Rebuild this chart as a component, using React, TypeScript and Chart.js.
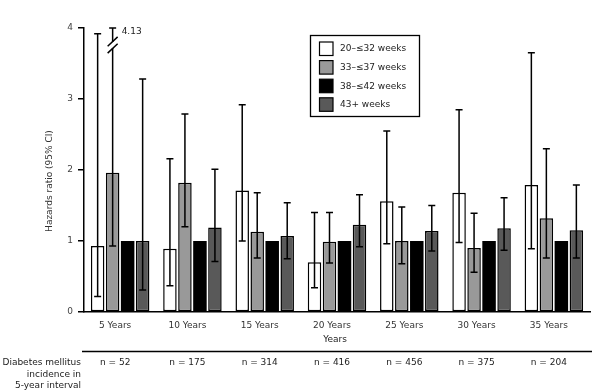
import React, { useEffect, useRef } from 'react';
import { Chart, registerables } from 'chart.js';

Chart.register(...registerables);

// ---------- data ----------
const categories = ['5 Years', '10 Years', '15 Years', '20 Years', '25 Years', '30 Years', '35 Years'];
const seriesLabels = ['20–≤32 weeks', '33–≤37 weeks', '38–≤42 weeks', '43+ weeks'];

const hr20to32 = [0.93, 0.89, 1.71, 0.70, 1.56, 1.68, 1.79];
const low20to32 = [0.22, 0.37, 1.00, 0.34, 0.96, 0.98, 0.89];
const high20to32 = [3.92, 2.16, 2.92, 1.40, 2.55, 2.85, 3.65];

const hr33to37 = [1.96, 1.82, 1.13, 0.99, 1.00, 0.90, 1.32];
const low33to37 = [0.93, 1.20, 0.76, 0.69, 0.68, 0.56, 0.76];
const high33to37 = [4.13, 2.79, 1.68, 1.40, 1.48, 1.39, 2.30];

const hr38to42 = [1, 1, 1, 1, 1, 1, 1];

const hr43plus = [1.00, 1.19, 1.07, 1.23, 1.14, 1.18, 1.15];
const low43plus = [0.31, 0.71, 0.75, 0.92, 0.86, 0.87, 0.76];
const high43plus = [3.28, 2.01, 1.54, 1.65, 1.50, 1.61, 1.79];

const incidenceCounts = ['n = 52', 'n = 175', 'n = 314', 'n = 416', 'n = 456', 'n = 375', 'n = 204'];
const incidenceRowLabel = ['Diabetes mellitus', 'incidence in', '5-year interval'];
const yTickValues = [0, 1, 2, 3, 4];
const yAxisTitle = 'Hazards ratio (95% CI)';
const xAxisTitle = 'Years';

// ---------- styles ----------
const FONT = '"DejaVu Sans", Verdana, sans-serif';
const colors = ['#ffffff', '#999999', '#000000', '#595959'];
const borderWidths = [1.5, 1.5, 0, 1.5];
const Y_MAX = 4;

const errorSeries = [
  { datasetIndex: 0, low: low20to32, high: high20to32 },
  { datasetIndex: 1, low: low33to37, high: high33to37 },
  { datasetIndex: 3, low: low43plus, high: high43plus },
];

const errorBarPlugin = {
  id: 'errorBars',
  afterDatasetsDraw(chart: any) {
    const ctx = chart.ctx;
    const yScale = chart.scales.y;
    ctx.save();
    ctx.strokeStyle = '#000';
    ctx.lineWidth = 1.5;
    const cap = 3.5;
    errorSeries.forEach(({ datasetIndex, low, high }) => {
      const meta = chart.getDatasetMeta(datasetIndex);
      meta.data.forEach((bar: any, i: number) => {
        const x = bar.x;
        const clipped = high[i] > Y_MAX;
        const yTop = yScale.getPixelForValue(Math.min(high[i], Y_MAX));
        const yBot = yScale.getPixelForValue(low[i]);
        ctx.beginPath();
        ctx.moveTo(x, yTop);
        ctx.lineTo(x, yBot);
        ctx.moveTo(x - cap, yTop);
        ctx.lineTo(x + cap, yTop);
        ctx.moveTo(x - cap, yBot);
        ctx.lineTo(x + cap, yBot);
        ctx.stroke();
        if (clipped) {
          const yc = yTop + 17;
          ctx.save();
          ctx.strokeStyle = '#fff';
          ctx.lineWidth = 3;
          ctx.beginPath();
          ctx.moveTo(x, yc - 3);
          ctx.lineTo(x, yc + 3);
          ctx.stroke();
          ctx.restore();
          ctx.beginPath();
          [-3.4, 3.4].forEach((dy) => {
            ctx.moveTo(x - 5, yc + dy + 4.7);
            ctx.lineTo(x + 5, yc + dy - 4.7);
          });
          ctx.stroke();
          ctx.fillStyle = '#222';
          ctx.font = `9px ${FONT}`;
          ctx.textAlign = 'left';
          ctx.textBaseline = 'middle';
          ctx.fillText(high[i].toFixed(2), x + 9, yTop + 3.5);
        }
      });
    });
    ctx.restore();
  },
};

const annotationsPlugin = {
  id: 'annotations',
  afterDraw(chart: any) {
    const ctx = chart.ctx;
    const area = chart.chartArea;
    const xScale = chart.scales.x;
    ctx.save();
    ctx.font = `9px ${FONT}`;
    ctx.fillStyle = '#222';

    // legend
    const lx = area.left + 226.5;
    const ly = 35.5;
    ctx.strokeStyle = '#000';
    ctx.lineWidth = 1.3;
    ctx.fillStyle = '#fff';
    ctx.fillRect(lx, ly, 109, 81);
    ctx.strokeRect(lx, ly, 109, 81);
    chart.data.datasets.forEach((ds: any, i: number) => {
      const sy = ly + 6.5 + i * 18.6;
      ctx.fillStyle = ds.backgroundColor;
      ctx.fillRect(lx + 9, sy, 13.5, 13.5);
      ctx.lineWidth = 1.2;
      ctx.strokeStyle = '#000';
      ctx.strokeRect(lx + 9, sy, 13.5, 13.5);
      ctx.fillStyle = '#222';
      ctx.textAlign = 'left';
      ctx.textBaseline = 'middle';
      ctx.fillText(ds.label, lx + 29.5, sy + 7);
    });

    // y axis title
    ctx.save();
    ctx.translate(49.5, 181);
    ctx.rotate(-Math.PI / 2);
    ctx.textAlign = 'center';
    ctx.textBaseline = 'middle';
    ctx.fillStyle = '#333';
    ctx.fillText(yAxisTitle, 0, 0);
    ctx.restore();

    // x axis title
    ctx.textAlign = 'center';
    ctx.textBaseline = 'middle';
    ctx.fillStyle = '#222';
    ctx.fillText(xAxisTitle, (area.left + area.right) / 2 - 2, 340);

    // separator line
    ctx.strokeStyle = '#000';
    ctx.lineWidth = 1.5;
    ctx.beginPath();
    ctx.moveTo(82, 351.5);
    ctx.lineTo(chart.width, 351.5);
    ctx.stroke();

    // row label
    ctx.textAlign = 'right';
    incidenceRowLabel.forEach((t, i) => {
      ctx.fillText(t, 81, 362.5 + i * 11.8);
    });

    // n counts
    ctx.textAlign = 'center';
    incidenceCounts.forEach((t, i) => {
      ctx.fillText(t, xScale.getPixelForValue(i) - 5, 362.5);
    });
    ctx.restore();
  },
};

export default function App() {
  const canvasRef = useRef<HTMLCanvasElement | null>(null);

  useEffect(() => {
    if (!canvasRef.current) return;
    const chart = new Chart(canvasRef.current, {
      type: 'bar',
      data: {
        labels: categories,
        datasets: [hr20to32, hr33to37, hr38to42, hr43plus].map((d, i) => ({
          label: seriesLabels[i],
          data: d,
          backgroundColor: colors[i],
          borderColor: '#000',
          borderWidth: borderWidths[i],
          borderSkipped: false,
          categoryPercentage: 0.83,
          barPercentage: 0.9,
        })),
      },
      options: {
        responsive: false,
        animation: false,
        devicePixelRatio: 1,
        layout: { padding: { top: 28, right: 2, left: 0, bottom: 0 } },
        plugins: {
          legend: { display: false },
          tooltip: { enabled: false },
        },
        scales: {
          x: {
            type: 'category',
            offset: true,
            grid: { display: false, drawTicks: false },
            border: { display: true, color: '#000', width: 1.5 },
            ticks: {
              font: { family: FONT, size: 9 },
              color: '#333',
              padding: 8,
              labelOffset: -5,
              maxRotation: 0,
              autoSkip: false,
            },
            afterFit: (scale: any) => {
              scale.height = 79;
            },
          },
          y: {
            min: 0,
            max: Y_MAX,
            afterBuildTicks: (scale: any) => {
              scale.ticks = yTickValues.map((v) => ({ value: v }));
            },
            grid: {
              drawOnChartArea: false,
              drawTicks: true,
              tickLength: 6,
              color: '#000',
              lineWidth: 1.5,
            },
            border: { display: true, color: '#000', width: 1.5 },
            ticks: {
              font: { family: FONT, size: 9 },
              color: '#444',
              padding: 5,
            },
            afterFit: (scale: any) => {
              scale.width = 84;
            },
          },
        },
      },
      plugins: [errorBarPlugin, annotationsPlugin],
    });
    return () => chart.destroy();
  }, []);

  return (
    <div style={{ position: 'absolute', left: 0, top: 0, width: 592, height: 391, background: '#fff' }}>
      <canvas ref={canvasRef} width={592} height={391} style={{ display: 'block' }} />
    </div>
  );
}
